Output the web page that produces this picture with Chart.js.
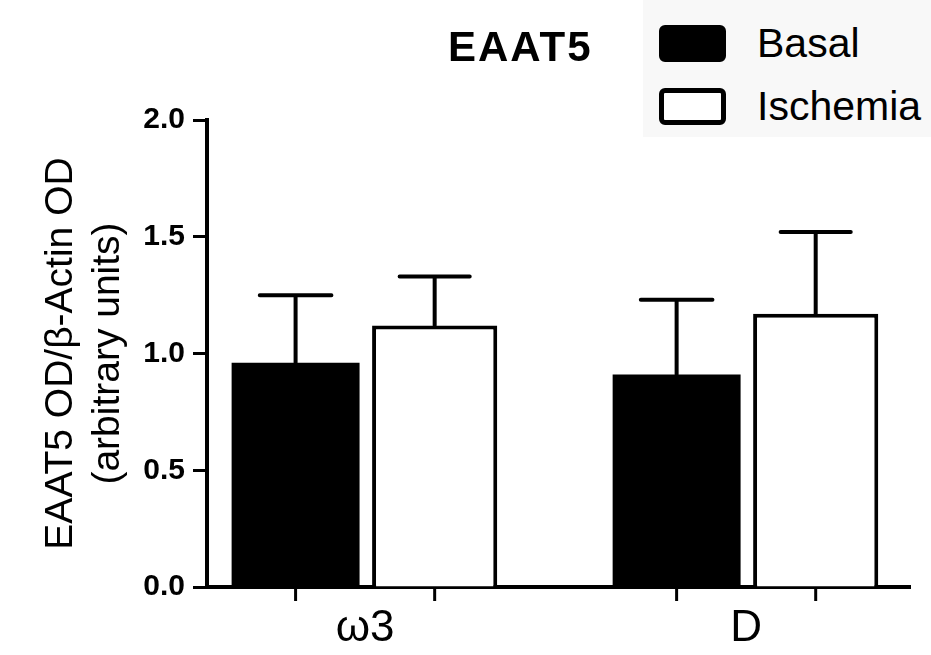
<!DOCTYPE html>
<html>
<head>
<meta charset="utf-8">
<title>EAAT5</title>
<script src="https://cdn.jsdelivr.net/npm/chart.js@4.4.1/dist/chart.umd.min.js"></script>
<style>
  html, body { margin: 0; padding: 0; background: #fff; }
  #wrap { position: relative; width: 931px; height: 655px; overflow: hidden; font-family: "Liberation Sans", Arial, sans-serif; color: #000; }
  #chart { position: absolute; left: 0; top: 0; }
  #title { position: absolute; left: 448px; top: 23px; font-weight: bold; font-size: 42px; line-height: 48px; letter-spacing: 2px; }
  #legend { position: absolute; left: 643px; top: 0; width: 288px; height: 137px; background: #f8f8f8; }
  .item { position: absolute; left: 16px; display: flex; align-items: center; }
  .swatch { width: 67px; height: 37px; box-sizing: border-box; border-radius: 6px; }
  .label { margin-left: 31px; font-size: 41px; white-space: nowrap; }
</style>
</head>
<body>
<div id="wrap">
  <canvas id="chart" width="931" height="655"></canvas>
  <div id="title">EAAT5</div>
  <div id="legend"></div>
</div>
<script>
  const categories = ["ω3", "D"];
  const seriesNames = ["Basal", "Ischemia"];
  const basal = [0.96, 0.91];
  const basalErr = [0.29, 0.32];
  const ischemia = [1.12, 1.17];
  const ischemiaErr = [0.21, 0.35];
  const yTicks = [0, 0.5, 1.0, 1.5, 2.0];

  const toPoints = (values) => values.map((v, i) => ({ x: i, y: v }));

  // upward-only error bars, drawn from the bar tops through the y scale
  const errorBars = {
    id: "errorBars",
    afterDatasetsDraw(chart) {
      const { ctx } = chart;
      const y = chart.scales.y;
      ctx.save();
      ctx.strokeStyle = "#000";
      ctx.lineWidth = 4;
      ctx.lineCap = "round";
      chart.data.datasets.forEach((ds, i) => {
        chart.getDatasetMeta(i).data.forEach((bar, j) => {
          const top = y.getPixelForValue(ds.data[j].y + ds.errors[j]);
          const half = bar.width * 0.28;
          ctx.beginPath();
          ctx.moveTo(bar.x, bar.y);
          ctx.lineTo(bar.x, top);
          ctx.moveTo(bar.x - half, top);
          ctx.lineTo(bar.x + half, top);
          ctx.stroke();
        });
      });
      ctx.restore();
    },
  };

  // small tick under every bar, like the original axis
  const barTicks = {
    id: "barTicks",
    afterDraw(chart) {
      const { ctx, chartArea } = chart;
      ctx.save();
      ctx.strokeStyle = "#000";
      ctx.lineWidth = 3;
      chart.data.datasets.forEach((ds, i) => {
        chart.getDatasetMeta(i).data.forEach((bar) => {
          ctx.beginPath();
          ctx.moveTo(bar.x, chartArea.bottom);
          ctx.lineTo(bar.x, chartArea.bottom + 14);
          ctx.stroke();
        });
      });
      ctx.restore();
    },
  };

  const chart = new Chart(document.getElementById("chart"), {
    type: "bar",
    data: {
      datasets: [
        {
          label: seriesNames[0],
          data: toPoints(basal),
          errors: basalErr,
          backgroundColor: "#000",
          borderColor: "#000",
          borderWidth: 0,
          barPercentage: 0.92,
          categoryPercentage: 0.73,
        },
        {
          label: seriesNames[1],
          data: toPoints(ischemia),
          errors: ischemiaErr,
          backgroundColor: "#fff",
          borderColor: "#000",
          borderWidth: 4,
          barPercentage: 0.9,
          categoryPercentage: 0.73,
        },
      ],
    },
    options: {
      responsive: false,
      animation: false,
      layout: { padding: { top: 120, right: 21, bottom: 0, left: 0 } },
      plugins: {
        legend: { display: false },
        tooltip: { enabled: false },
      },
      scales: {
        x: {
          type: "linear",
          z: 1,
          offset: false,
          bounds: "data",
          min: -0.415,
          max: 1.43,
          afterBuildTicks: (scale) => {
            scale.ticks = categories.map((c, i) => ({ value: i }));
          },
          afterFit: (scale) => {
            scale.height = 68;
          },
          grid: { display: false, drawTicks: false, offset: false },
          border: { display: true, color: "#000", width: 4 },
          ticks: {
            color: "#000",
            padding: 15,
            font: { family: "'Liberation Sans', Arial, sans-serif", size: 44 },
            callback: (value) => categories[value],
          },
        },
        y: {
          z: 1,
          min: 0,
          max: 2,
          afterBuildTicks: (scale) => {
            scale.ticks = yTicks.map((v) => ({ value: v }));
          },
          afterFit: (scale) => {
            scale.width = 207;
          },
          grid: {
            drawOnChartArea: false,
            drawTicks: true,
            tickLength: 14,
            tickWidth: 3,
            tickColor: "#000",
          },
          border: { display: true, color: "#000", width: 4 },
          ticks: {
            color: "#000",
            padding: 8,
            font: { family: "'Liberation Sans', Arial, sans-serif", size: 30, weight: "bold" },
            callback: (value) => value.toFixed(1),
          },
          title: {
            display: true,
            text: ["EAAT5 OD/β-Actin OD", "(arbitrary units)"],
            color: "#000",
            padding: { top: 38, bottom: 0 },
            font: { family: "'Liberation Sans', Arial, sans-serif", size: 39, lineHeight: 1.2 },
          },
        },
      },
    },
    plugins: [errorBars, barTicks],
  });

  // HTML legend built from the chart's own legend items
  const legendBox = document.getElementById("legend");
  const items = Chart.defaults.plugins.legend.labels.generateLabels(chart);
  const legendTops = [20, 83];
  items.forEach((item, i) => {
    const row = document.createElement("div");
    row.className = "item";
    row.style.top = legendTops[i] + "px";
    const swatch = document.createElement("span");
    swatch.className = "swatch";
    swatch.style.background = item.fillStyle;
    swatch.style.border = "5px solid " + (item.strokeStyle || "#000");
    const label = document.createElement("span");
    label.className = "label";
    label.textContent = item.text;
    row.appendChild(swatch);
    row.appendChild(label);
    legendBox.appendChild(row);
  });
</script>
</body>
</html>
